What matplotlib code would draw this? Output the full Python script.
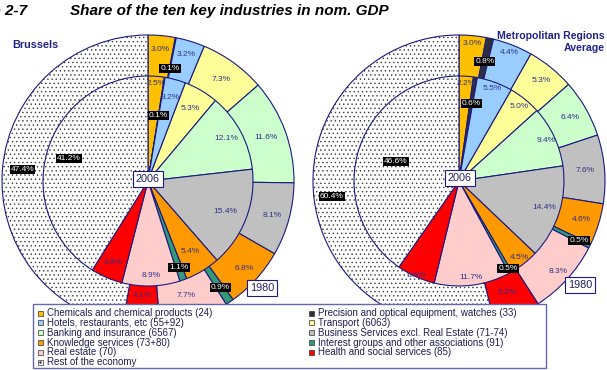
import matplotlib
matplotlib.use('Agg')
import matplotlib.pyplot as plt
from matplotlib.patches import Wedge, Rectangle
import numpy as np

plt.rcParams['font.family'] = ['Liberation Sans', 'DejaVu Sans']
plt.rcParams['hatch.linewidth'] = 0.5

# ---------------- data ----------------
categories = [
    "Chemicals and chemical products (24)",
    "Precision and optical equipment, watches (33)",
    "Hotels, restaurants, etc (55+92)",
    "Transport (6063)",
    "Banking and insurance (6567)",
    "Business Services excl. Real Estate (71-74)",
    "Knowledge services (73+80)",
    "Interest groups and other associations (91)",
    "Real estate (70)",
    "Health and social services (85)",
    "Rest of the economy",
]
colors = ['#FFC000', '#2E2E40', '#99CCFF', '#FFFF99', '#CCFFCC', '#C0C0C0',
          '#FF9900', '#339977', '#FFCCCC', '#FF0000', '#FFFFFF']

bru_1980 = [3.0, 0.1, 3.2, 7.3, 11.6, 8.1, 6.8, 0.9, 7.7, 4.1, 47.4]
bru_2006 = [2.5, 0.1, 3.2, 5.3, 12.1, 15.4, 5.4, 1.1, 8.9, 4.9, 41.2]
met_1980 = [3.0, 0.8, 4.4, 5.3, 6.4, 7.6, 4.6, 0.5, 8.3, 5.2, 60.4]
met_2006 = [2.2, 0.6, 5.5, 5.0, 9.4, 14.4, 4.5, 0.5, 11.7, 5.9, 46.6]

title = "Share of the ten key industries in nom. GDP"
fig_no = "Figure 2-7"

# ---------------- layout / style ----------------
W, H = 607, 370
EDGE = '#1A1A80'
LBL = '#30308A'
NAVY_TXT = '#22228A'
dark_idx = {1, 7, 10}

# label distance from the centre for each wedge (pixels)
bru_out_r = [132, 115, 132, 125, 126, 129, 130, 129, 121, 115, 126]
bru_in_r = [98, 66, 86, 84, 89, 83, 82, 92, 95, 89, 82]
met_out_r = [138, 122, 138, 130, 128, 126, 128, 134, 134, 121, 128]
met_in_r = [98, 78, 98, 96, 96, 89, 98, 100, 97, 104, 66]

fig = plt.figure(figsize=(W / 100, H / 100), dpi=100)
ax = fig.add_axes([0, 0, 1, 1])


def Y(y):
    return H - y


def draw_ring(values, center, radius, label_rs):
    fr = [v / 100 for v in values[:-1]]
    fr.append(1 - sum(fr))
    wedges, _ = ax.pie(fr, radius=radius, center=center, startangle=90,
                       counterclock=False, colors=colors, normalize=False,
                       wedgeprops=dict(edgecolor=EDGE, linewidth=0.8))
    rest = wedges[-1]
    rest.set_hatch('....')
    rest.set_edgecolor('#3A3A3A')
    rest.set_linewidth(0)
    ax.add_patch(Wedge(center, radius, rest.theta1, rest.theta2, fill=False,
                       edgecolor=EDGE, linewidth=0.8))
    for i, (w, v) in enumerate(zip(wedges, values)):
        a = np.deg2rad((w.theta1 + w.theta2) / 2)
        r = label_rs[i]
        x = center[0] + r * np.cos(a)
        y = center[1] + r * np.sin(a)
        if i in dark_idx:
            ax.text(x, y, f"{v:.1f}%", ha='center', va='center', fontsize=6,
                    color='white', zorder=4,
                    bbox=dict(boxstyle='square,pad=0.12', fc='black', ec='none'))
        else:
            ax.text(x, y, f"{v:.1f}%", ha='center', va='center', fontsize=6,
                    color=LBL, zorder=4)


R_OUT, R_IN = 146, 105
bc = (148, Y(181))
mc = (459, Y(181))
draw_ring(bru_1980, bc, R_OUT, bru_out_r)
draw_ring(bru_2006, bc, R_IN, bru_in_r)
draw_ring(met_1980, mc, R_OUT, met_out_r)
draw_ring(met_2006, mc, R_IN, met_in_r)

ax.set_xlim(0, W)
ax.set_ylim(0, H)
ax.set_aspect('auto')
ax.axis('off')

yr_box = dict(boxstyle='square,pad=0.3', fc='white', ec=EDGE, lw=0.8)
for (x, y, t) in [(148, 179, '2006'), (460, 178, '2006'),
                  (262, 288, '1980'), (580, 285, '1980')]:
    ax.text(x, Y(y), t, ha='center', va='center', fontsize=7.8, color='#202060',
            bbox=yr_box, zorder=6)

# titles
ax.text(27, Y(11), fig_no, ha='right', va='center', fontsize=11,
        fontweight='bold', fontstyle='italic', color='black')
ax.text(70, Y(11), title, ha='left', va='center', fontsize=11,
        fontweight='bold', fontstyle='italic', color='black')
ax.text(12, Y(45), "Brussels", ha='left', va='center', fontsize=7.8,
        fontweight='bold', color=NAVY_TXT)
ax.text(605, Y(36), "Metropolitan Regions", ha='right', va='center',
        fontsize=7.6, fontweight='bold', color=NAVY_TXT)
ax.text(605, Y(48), "Average", ha='right', va='center', fontsize=7.6,
        fontweight='bold', color=NAVY_TXT)

# legend (manual)
ax.add_patch(Rectangle((33, Y(368)), 513, 64, facecolor='white',
                       edgecolor='#6666AA', linewidth=1.0, zorder=7))
order = [0, 2, 4, 6, 8, 10, 1, 3, 5, 7, 9]
for k, idx in enumerate(order):
    col = 0 if k < 6 else 1
    row = k if k < 6 else k - 6
    mx = 40 if col == 0 else 311
    my = 313 + 9.85 * row
    ax.add_patch(Rectangle((mx - 2.5, Y(my) - 2.5), 5, 5, facecolor=colors[idx],
                           edgecolor='#333333', linewidth=0.5, zorder=8))
    if idx == 10:
        ax.plot([mx], [Y(my)], marker='s', ms=0.8, color='#444444', zorder=9)
    ax.text(mx + 7, Y(my), categories[idx], ha='left', va='center', fontsize=7,
            color='#202050', zorder=9)

fig.savefig('out.png', dpi=100)
